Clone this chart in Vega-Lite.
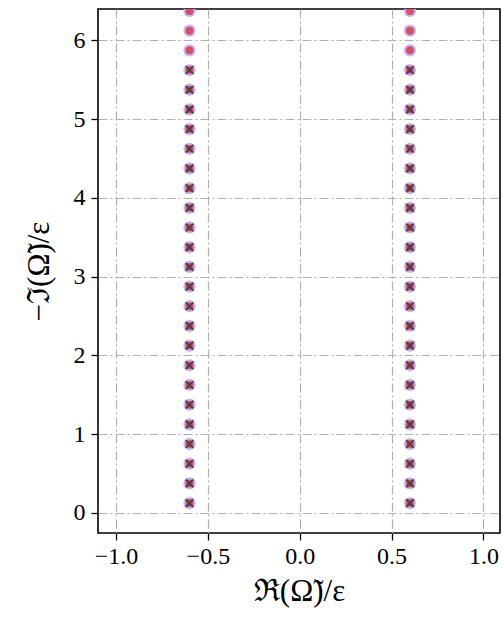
{
  "$schema": "https://vega.github.io/schema/vega-lite/v6.json",
  "autosize": {"type": "none"},
  "padding": {"left": 98, "top": 9, "right": 3, "bottom": 89},
  "width": 402,
  "height": 524,
  "config": {
    "view": {"stroke": "#000000", "strokeWidth": 1.6},
    "axis": {
      "grid": true,
      "gridColor": "#b0b0b0",
      "gridWidth": 1.2,
      "gridDash": [9, 3, 2, 3],
      "domain": false,
      "tickColor": "#000000",
      "tickWidth": 1.3,
      "tickSize": 7,
      "labelFont": "Liberation Serif",
      "labelFontSize": 24,
      "labelColor": "#000000",
      "titleFont": "Liberation Serif",
      "titleFontSize": 31,
      "titleFontWeight": "normal",
      "titleColor": "#000000"
    }
  },
  "data": {
    "values": [
      {"x": -0.6, "y": 0.125, "cross": 1}, {"x": 0.6, "y": 0.125, "cross": 1},
      {"x": -0.6, "y": 0.375, "cross": 1}, {"x": 0.6, "y": 0.375, "cross": 1},
      {"x": -0.6, "y": 0.625, "cross": 1}, {"x": 0.6, "y": 0.625, "cross": 1},
      {"x": -0.6, "y": 0.875, "cross": 1}, {"x": 0.6, "y": 0.875, "cross": 1},
      {"x": -0.6, "y": 1.125, "cross": 1}, {"x": 0.6, "y": 1.125, "cross": 1},
      {"x": -0.6, "y": 1.375, "cross": 1}, {"x": 0.6, "y": 1.375, "cross": 1},
      {"x": -0.6, "y": 1.625, "cross": 1}, {"x": 0.6, "y": 1.625, "cross": 1},
      {"x": -0.6, "y": 1.875, "cross": 1}, {"x": 0.6, "y": 1.875, "cross": 1},
      {"x": -0.6, "y": 2.125, "cross": 1}, {"x": 0.6, "y": 2.125, "cross": 1},
      {"x": -0.6, "y": 2.375, "cross": 1}, {"x": 0.6, "y": 2.375, "cross": 1},
      {"x": -0.6, "y": 2.625, "cross": 1}, {"x": 0.6, "y": 2.625, "cross": 1},
      {"x": -0.6, "y": 2.875, "cross": 1}, {"x": 0.6, "y": 2.875, "cross": 1},
      {"x": -0.6, "y": 3.125, "cross": 1}, {"x": 0.6, "y": 3.125, "cross": 1},
      {"x": -0.6, "y": 3.375, "cross": 1}, {"x": 0.6, "y": 3.375, "cross": 1},
      {"x": -0.6, "y": 3.625, "cross": 1}, {"x": 0.6, "y": 3.625, "cross": 1},
      {"x": -0.6, "y": 3.875, "cross": 1}, {"x": 0.6, "y": 3.875, "cross": 1},
      {"x": -0.6, "y": 4.125, "cross": 1}, {"x": 0.6, "y": 4.125, "cross": 1},
      {"x": -0.6, "y": 4.375, "cross": 1}, {"x": 0.6, "y": 4.375, "cross": 1},
      {"x": -0.6, "y": 4.625, "cross": 1}, {"x": 0.6, "y": 4.625, "cross": 1},
      {"x": -0.6, "y": 4.875, "cross": 1}, {"x": 0.6, "y": 4.875, "cross": 1},
      {"x": -0.6, "y": 5.125, "cross": 1}, {"x": 0.6, "y": 5.125, "cross": 1},
      {"x": -0.6, "y": 5.375, "cross": 1}, {"x": 0.6, "y": 5.375, "cross": 1},
      {"x": -0.6, "y": 5.625, "cross": 1}, {"x": 0.6, "y": 5.625, "cross": 1},
      {"x": -0.6, "y": 5.875, "cross": 0}, {"x": 0.6, "y": 5.875, "cross": 0},
      {"x": -0.6, "y": 6.125, "cross": 0}, {"x": 0.6, "y": 6.125, "cross": 0},
      {"x": -0.6, "y": 6.375, "cross": 0}, {"x": 0.6, "y": 6.375, "cross": 0}
    ]
  },
  "encoding": {
    "x": {
      "field": "x", "type": "quantitative",
      "scale": {"domain": [-1.098, 1.09], "nice": false, "zero": false},
      "axis": {"values": [-1, -0.5, 0, 0.5, 1], "format": ".1f", "title": "ℜ(Ω̃)/ε", "labelPadding": 4, "titlePadding": 8}
    },
    "y": {
      "field": "y", "type": "quantitative",
      "scale": {"domain": [-0.255, 6.4], "nice": false, "zero": false},
      "axis": {"values": [0, 1, 2, 3, 4, 5, 6], "format": "d", "title": "−ℑ(Ω̃)/ε", "labelPadding": 6, "titlePadding": 18}
    }
  },
  "layer": [
    {
      "mark": {"type": "point", "shape": "circle", "filled": true, "size": 150, "color": "#c7b2f2", "opacity": 1, "clip": true}
    },
    {
      "mark": {"type": "point", "shape": "circle", "filled": true, "size": 64, "color": "#d05266", "opacity": 1, "clip": true}
    },
    {
      "transform": [{"filter": "datum.cross == 1"}],
      "mark": {"type": "point", "shape": "M-1,-1L1,1M-1,1L1,-1", "filled": false, "size": 60, "stroke": "#3a3a3a", "strokeWidth": 2, "opacity": 0.85, "clip": true}
    }
  ]
}
